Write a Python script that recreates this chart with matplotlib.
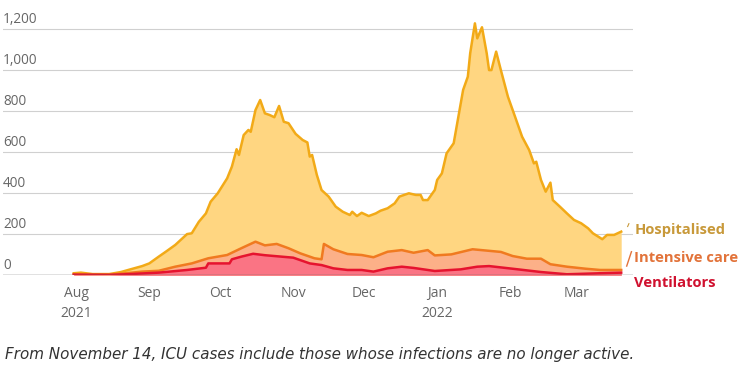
import pandas as pd
import matplotlib
matplotlib.use("Agg")
import matplotlib.pyplot as plt
import matplotlib.transforms as mtransforms

# values
hosp_dates = ['2021-07-31', '2021-08-03', '2021-08-08', '2021-08-15', '2021-08-20', '2021-08-24',
              '2021-08-29', '2021-09-01', '2021-09-05', '2021-09-08', '2021-09-12', '2021-09-17',
              '2021-09-19', '2021-09-22', '2021-09-25', '2021-09-27', '2021-09-30', '2021-10-04',
              '2021-10-06', '2021-10-08', '2021-10-09', '2021-10-11', '2021-10-13', '2021-10-14',
              '2021-10-16', '2021-10-18', '2021-10-20', '2021-10-22', '2021-10-24', '2021-10-26',
              '2021-10-28', '2021-10-30', '2021-11-02', '2021-11-05', '2021-11-07', '2021-11-08',
              '2021-11-09', '2021-11-11', '2021-11-13', '2021-11-16', '2021-11-19', '2021-11-22',
              '2021-11-25', '2021-11-26', '2021-11-28', '2021-11-30', '2021-12-03', '2021-12-06',
              '2021-12-08', '2021-12-11', '2021-12-14', '2021-12-16', '2021-12-20', '2021-12-23',
              '2021-12-25', '2021-12-26', '2021-12-28', '2021-12-30', '2021-12-31', '2022-01-01',
              '2022-01-03', '2022-01-05', '2022-01-08', '2022-01-10', '2022-01-12', '2022-01-14',
              '2022-01-15', '2022-01-17', '2022-01-18', '2022-01-20', '2022-01-22', '2022-01-23',
              '2022-01-24', '2022-01-26', '2022-01-28', '2022-01-31', '2022-02-03', '2022-02-06',
              '2022-02-09', '2022-02-11', '2022-02-12', '2022-02-14', '2022-02-16', '2022-02-18',
              '2022-02-19', '2022-02-22', '2022-02-25', '2022-02-28', '2022-03-03', '2022-03-06',
              '2022-03-08', '2022-03-12', '2022-03-14', '2022-03-17', '2022-03-20']
hosp_vals = [10, 13, 6, 6, 16, 29,
             45, 58, 91, 115, 148, 201,
             205, 261, 302, 359, 400, 473,
             530, 615, 587, 684, 709, 700,
             806, 855, 790, 782, 771, 826,
             749, 742, 690, 660, 648, 579,
             587, 490, 416, 384, 335, 310,
             294, 310, 289, 305, 289, 302,
             315, 327, 351, 384, 400, 392,
             392, 367, 367, 400, 416, 465,
             497, 595, 644, 774, 904, 969,
             1083, 1229, 1156, 1210, 1083, 1001,
             1001, 1091, 1001, 871, 774, 676,
             611, 546, 554, 465, 408, 452,
             367, 335, 302, 270, 254, 229,
             205, 176, 197, 197, 213]

icu_dates = ['2021-07-31', '2021-08-15', '2021-08-22', '2021-08-29', '2021-09-05', '2021-09-12',
             '2021-09-19', '2021-09-26', '2021-10-04', '2021-10-10', '2021-10-16', '2021-10-20',
             '2021-10-25', '2021-10-30', '2021-11-04', '2021-11-10', '2021-11-13', '2021-11-14',
             '2021-11-18', '2021-11-24', '2021-11-30', '2021-12-05', '2021-12-11', '2021-12-17',
             '2021-12-22', '2021-12-28', '2021-12-31', '2022-01-07', '2022-01-16', '2022-01-28',
             '2022-02-02', '2022-02-08', '2022-02-14', '2022-02-18', '2022-02-25', '2022-03-05',
             '2022-03-11', '2022-03-20']
icu_vals = [5, 3, 10, 18, 22, 42,
            58, 83, 99, 132, 164, 146,
            153, 132, 107, 83, 78, 153,
            127, 104, 99, 88, 115, 123,
            110, 123, 97, 102, 127, 114,
            94, 81, 81, 54, 42, 32,
            26, 26]

vent_dates = ['2021-07-31', '2021-08-15', '2021-08-22', '2021-09-05', '2021-09-17', '2021-09-25',
              '2021-09-26', '2021-10-05', '2021-10-06', '2021-10-10', '2021-10-15', '2021-10-20',
              '2021-11-01', '2021-11-08', '2021-11-13', '2021-11-18', '2021-11-24', '2021-11-30',
              '2021-12-05', '2021-12-11', '2021-12-17', '2021-12-22', '2021-12-31', '2022-01-11',
              '2022-01-18', '2022-01-23', '2022-02-02', '2022-02-14', '2022-02-25', '2022-03-11',
              '2022-03-20']
vent_vals = [3, 2, 5, 13, 26, 37,
             58, 58, 78, 91, 105, 98,
             86, 58, 50, 34, 26, 26,
             18, 34, 42, 36, 21, 29,
             42, 45, 32, 16, 5, 10,
             13]

month_ticks = ['2021-08-01', '2021-09-01', '2021-10-01', '2021-11-01', '2021-12-01',
               '2022-01-01', '2022-02-01', '2022-03-01']
month_labels = ['Aug\n2021', 'Sep', 'Oct', 'Nov', 'Dec', 'Jan\n2022', 'Feb', 'Mar']
y_ticks = [0, 200, 400, 600, 800, 1000, 1200]

hosp_d = pd.to_datetime(hosp_dates)
icu_d = pd.to_datetime(icu_dates)
vent_d = pd.to_datetime(vent_dates)

plt.rcParams['font.family'] = ['Open Sans', 'DejaVu Sans']

fig = plt.figure(figsize=(7.52, 3.72), dpi=100)
ax = fig.add_axes([3 / 752, (372 - 275.3) / 372, 630 / 752, 256.25 / 372])

ax.fill_between(hosp_d, 0, hosp_vals, color='#ffd681', lw=0)
ax.plot(hosp_d, hosp_vals, color='#f2aa17', lw=1.8)
ax.fill_between(icu_d, 0, icu_vals, color='#fcb088', lw=0)
ax.plot(icu_d, icu_vals, color='#f07a20', lw=1.8)
ax.fill_between(vent_d, 0, vent_vals, color='#fa7484', lw=0)
ax.plot(vent_d, vent_vals, color='#e6132f', lw=1.8)

ax.set_xlim(pd.Timestamp('2021-07-01'), pd.Timestamp('2022-03-25'))
ax.set_ylim(0, 1250)

# gridlines and y labels sitting above them
trans = mtransforms.blended_transform_factory(ax.transAxes, ax.transData)
for v in y_ticks:
    if v == 0:
        ax.axhline(0, color='#666666', lw=1, zorder=5)
    else:
        ax.axhline(v, color='#d0d0d0', lw=0.8, zorder=0)
    ax.text(0.0, v + 12, '{:,}'.format(v), transform=trans, ha='left', va='bottom',
            fontsize=9.8, color='#666666')
ax.get_yaxis().set_visible(False)

ax.set_xticks(pd.to_datetime(month_ticks))
ax.set_xticklabels(month_labels, fontsize=10, color='#666666', linespacing=1.45)
ax.tick_params(axis='x', length=0, pad=8)
for s in ax.spines.values():
    s.set_visible(False)

# series labels on the right
lab_font = dict(fontsize=10.6, fontweight='bold', va='center', ha='left', clip_on=False)
ax.text(1.002, 220, 'Hospitalised', transform=trans, color='#c8993a', **lab_font)
ax.text(1.002, 86, 'Intensive care', transform=trans, color='#e2733a', **lab_font)
ax.text(1.002, -38, 'Ventilators', transform=trans, color='#d0112f', **lab_font)
ax.plot([0.9915, 0.9935], [238, 252], transform=trans, color='#c8993a', lw=0.8, clip_on=False)
ax.plot([0.9900, 0.9975], [45, 115], transform=trans, color='#e2733a', lw=1.0, clip_on=False)

fig.text(5 / 752, 1 - 355 / 372, 'From November 14, ICU cases include those whose infections are no longer active.',
         fontsize=10.9, style='italic', color='#333333', va='center', ha='left',
         family=['DejaVu Sans'])

fig.savefig('out.png', dpi=100)
